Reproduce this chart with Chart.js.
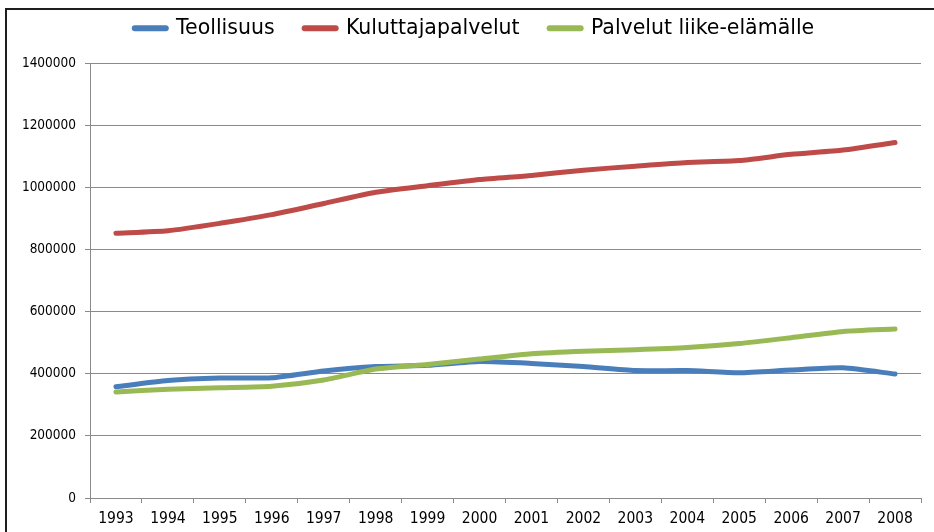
<!DOCTYPE html>
<html>
<head>
<meta charset="utf-8">
<script src="https://cdn.jsdelivr.net/npm/chart.js@4"></script>
<style>
  html, body { margin: 0; padding: 0; background: #fff; }
  #wrap { position: relative; width: 934px; height: 532px; overflow: hidden; }
  #frame { position: absolute; left: 5px; top: 8px; right: -4px; bottom: -4px;
           border-top: 2px solid #1e1e1e; border-left: 2px solid #1e1e1e; pointer-events: none; }
</style>
</head>
<body>
<div id="wrap">
  <canvas id="chart" width="934" height="532"></canvas>
  <div id="frame"></div>
</div>
<script>
// Data
const years = ['1993', '1994', '1995', '1996', '1997', '1998', '1999', '2000',
               '2001', '2002', '2003', '2004', '2005', '2006', '2007', '2008'];
const teollisuus = [358000, 378000, 386000, 387000, 409000, 423000, 427000, 439000,
                    433000, 423000, 410000, 410000, 403000, 412000, 419000, 399000];
const kuluttajapalvelut = [852000, 860000, 884000, 912000, 948000, 984000, 1005000, 1025000,
                           1038000, 1055000, 1068000, 1080000, 1086000, 1106000, 1120000, 1144000];
const palvelutLiike = [341000, 350000, 355000, 360000, 380000, 415000, 430000, 447000,
                       464000, 472000, 477000, 484000, 497000, 516000, 536000, 544000];
const yTicks = [0, 200000, 400000, 600000, 800000, 1000000, 1200000, 1400000];

const FONT = "'DejaVu Sans', 'Liberation Sans', sans-serif";
const NARROW = "'Liberation Sans Narrow', 'DejaVu Sans Condensed', sans-serif";
const COND = "'DejaVu Sans Condensed', 'DejaVu Sans', sans-serif";
const GRID = '#8a8a8a';
const PLOT_TOP = 63;
const LEGEND_SHIFT = 14;

function series(label, data, color, order) {
  return {
    label, data, order,
    borderColor: color,
    backgroundColor: color,
    borderWidth: 5,
    borderCapStyle: 'round',
    borderJoinStyle: 'round',
    pointRadius: 0,
    pointHoverRadius: 0,
    tension: 0.2,
    fill: false,
  };
}

// stretch the legend box so the plot starts where the original one does,
// and nudge it right a bit (the original centres it over the plot, not the page)
const legendPlace = {
  id: 'legendPlace',
  beforeInit(chart) {
    const lg = chart.legend;
    if (!lg) return;
    const fit = lg.fit.bind(lg);
    lg.fit = function() {
      fit();
      this.height = PLOT_TOP - chart.options.layout.padding.top;
    };
  },
  afterLayout(chart) {
    const lg = chart.legend;
    if (!lg) return;
    lg.left += LEGEND_SHIFT;
    lg.right += LEGEND_SHIFT;
  }
};

new Chart(document.getElementById('chart'), {
  type: 'line',
  data: {
    labels: years,
    datasets: [
      series('Teollisuus', teollisuus, '#4a7ebb', 3),
      series('Kuluttajapalvelut', kuluttajapalvelut, '#be4b48', 2),
      series('Palvelut liike-elämälle', palvelutLiike, '#98b954', 1),
    ],
  },
  plugins: [legendPlace],
  options: {
    responsive: false,
    animation: false,
    devicePixelRatio: 1,
    layout: { padding: { top: -12, right: 13, left: 0, bottom: 0 } },
    scales: {
      x: {
        offset: true,
        grid: { offset: true, drawOnChartArea: false, drawTicks: true, tickLength: 5, color: GRID },
        border: { color: GRID, width: 1 },
        ticks: { color: '#000', font: { family: NARROW, size: 15.5 }, padding: 7, maxRotation: 0, autoSkip: false },
        afterFit: s => { s.height = 34; },
      },
      y: {
        min: 0,
        max: 1400000,
        afterBuildTicks: s => { s.ticks = yTicks.map(v => ({ value: v })); },
        grid: { color: GRID, tickLength: 5 },
        border: { color: GRID, width: 1 },
        ticks: { color: '#000', font: { family: COND, size: 13.5 }, padding: 9, callback: v => String(v) },
        afterFit: s => { s.width = 90; },
      },
    },
    plugins: {
      legend: {
        position: 'top',
        align: 'center',
        labels: {
          usePointStyle: true,
          pointStyle: 'line',
          pointStyleWidth: 31,
          boxHeight: 6,
          padding: 30,
          color: '#000',
          font: { family: FONT, size: 20.5 },
          generateLabels: chart => chart.data.datasets.map((ds, i) => ({
            text: ds.label,
            datasetIndex: i,
            strokeStyle: ds.borderColor,
            fillStyle: ds.borderColor,
            lineWidth: 6,
            lineCap: 'round',
            pointStyle: 'line',
            fontColor: '#000',
            hidden: false,
          })),
        },
      },
      tooltip: { enabled: false },
    },
  },
});
</script>
</body>
</html>
